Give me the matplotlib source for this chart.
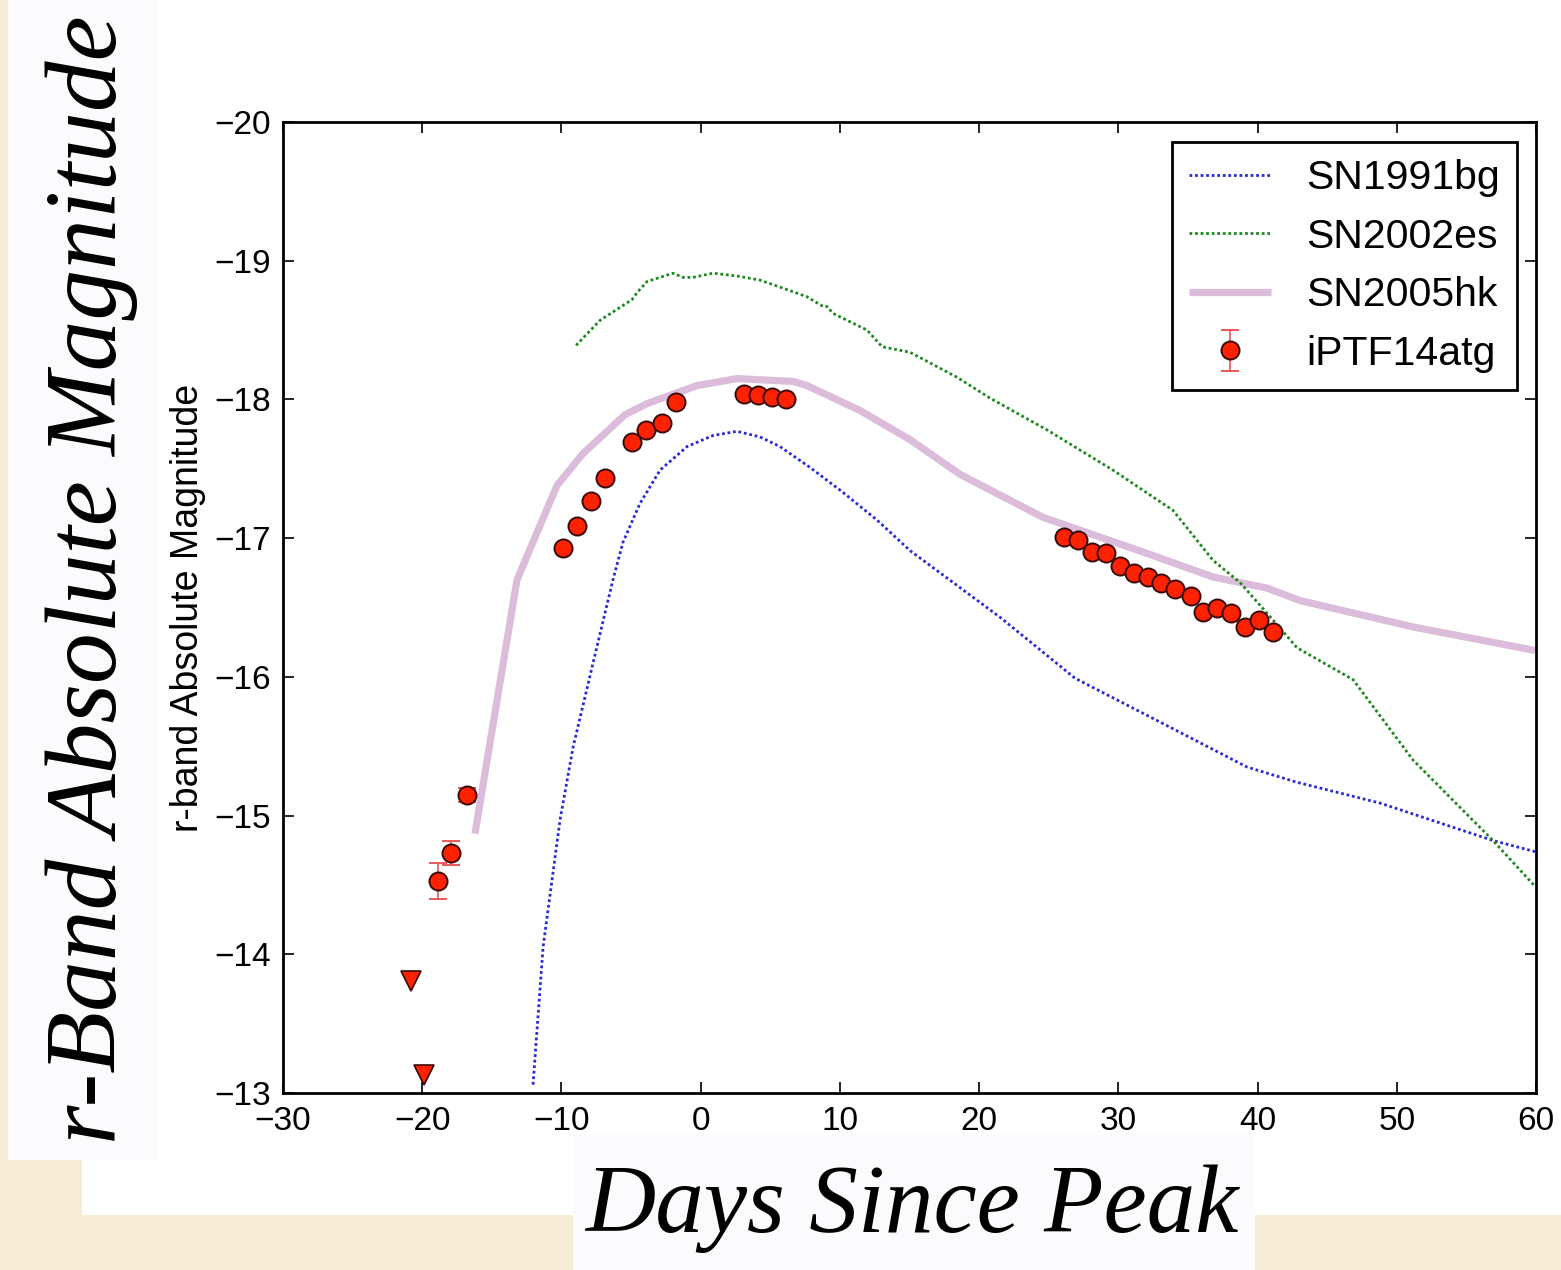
import matplotlib
matplotlib.use("Agg")
import matplotlib.pyplot as plt
from matplotlib.patches import Rectangle

# ---------------- data ----------------
bg91_days = [-12.04, -11.32, -10.10, -9.17, -7.73, -6.30, -5.58, -4.36, -2.92, -0.98,
             0.89, 2.61, 4.26, 5.70, 7.85, 10.22, 12.67, 15.04, 21.50, 26.89,
             34.43, 39.24, 42.83, 48.80, 56.91, 59.93]
bg91_mag = [-13.06, -14.05, -14.97, -15.49, -16.10, -16.70, -16.97, -17.25, -17.49, -17.66,
            -17.74, -17.77, -17.73, -17.66, -17.51, -17.33, -17.13, -16.91, -16.43, -15.99,
            -15.60, -15.35, -15.24, -15.09, -14.82, -14.74]

es02_days = [-8.95, -7.23, -4.93, -4.57, -3.85, -1.99, -1.27, -0.55, 0.89, 2.61,
             4.26, 5.70, 7.64, 8.79, 9.08, 9.51, 11.95, 13.03, 15.04, 18.41,
             20.78, 24.88, 29.62, 33.93, 36.80, 38.74, 41.11, 42.83, 46.86, 51.17,
             56.91, 59.93]
es02_mag = [-18.39, -18.57, -18.72, -18.77, -18.85, -18.91, -18.88, -18.88, -18.91, -18.89,
            -18.86, -18.81, -18.74, -18.67, -18.67, -18.62, -18.50, -18.38, -18.34, -18.16,
            -18.01, -17.78, -17.49, -17.20, -16.84, -16.68, -16.41, -16.21, -15.98, -15.40,
            -14.82, -14.49]

hk05_days = [-16.21, -13.19, -10.32, -8.45, -5.43, -3.85, -0.26, 2.61, 6.63, 7.64,
             11.45, 15.04, 18.63, 24.59, 32.06, 36.80, 40.68, 43.05, 51.17, 59.93]
hk05_mag = [-14.87, -16.70, -17.38, -17.61, -17.89, -17.97, -18.10, -18.15, -18.13, -18.10,
            -17.92, -17.71, -17.46, -17.15, -16.89, -16.72, -16.64, -16.55, -16.36, -16.19]

atg_days = [-18.9, -17.9, -16.8, -9.9, -8.9, -7.9, -6.9, -4.9, -3.9, -2.8, -1.8,
            3.1, 4.1, 5.1, 6.1,
            26.1, 27.1, 28.1, 29.1, 30.1, 31.1, 32.1, 33.1, 34.1, 35.2, 36.1, 37.1,
            38.1, 39.1, 40.1, 41.1]
atg_mag = [-14.53, -14.73, -15.15, -16.93, -17.09, -17.27, -17.43, -17.69, -17.78, -17.83, -17.98,
           -18.04, -18.03, -18.02, -18.00,
           -17.01, -16.99, -16.90, -16.89, -16.80, -16.75, -16.72, -16.68, -16.63, -16.58, -16.47, -16.50,
           -16.46, -16.36, -16.41, -16.32]
atg_err = [0.13, 0.087, 0.05, 0, 0, 0, 0, 0, 0, 0, 0,
           0, 0, 0, 0,
           0, 0, 0, 0, 0, 0, 0, 0, 0, 0, 0, 0,
           0, 0, 0, 0]

lim_days = [-20.8, -19.9]
lim_mag = [-13.81, -13.13]

x_ticks = [-30, -20, -10, 0, 10, 20, 30, 40, 50, 60]
y_ticks = [-20, -19, -18, -17, -16, -15, -14, -13]

# ---------------- figure ----------------
plt.rcParams['font.family'] = ['Liberation Sans', 'DejaVu Sans']

W, H = 1561, 1270
fig = plt.figure(figsize=(W / 100, H / 100), dpi=100)
fig.patch.set_facecolor('#f7edd4')

def frect(x0, y0, x1, y1, color, z):
    fig.patches.append(Rectangle((x0 / W, 1 - y1 / H), (x1 - x0) / W, (y1 - y0) / H,
                                 transform=fig.transFigure, facecolor=color,
                                 edgecolor='none', zorder=z))

frect(82, 0, 1561, 1215, '#ffffff', -3)
frect(8, 0, 157, 1160, '#fbfbfe', -2)
frect(573, 1135, 1255, 1270, '#fbfbfe', -2)

ax = fig.add_axes([283 / W, 1 - 1093 / H, (1536 - 283) / W, (1093 - 122) / H])
ax.set_facecolor('white')
ax.set_zorder(1)

ax.plot(hk05_days, hk05_mag, color='#dbbddb', lw=5.2, solid_capstyle='butt',
        label='SN2005hk', zorder=2)
ax.plot(bg91_days, bg91_mag, color='#2a2ad8', lw=2.0, ls=(0, (1, 1)),
        label='SN1991bg', zorder=3)
ax.plot(es02_days, es02_mag, color='#1e8a1e', lw=2.0, ls=(0, (1, 1)),
        label='SN2002es', zorder=3)

eb = ax.errorbar(atg_days, atg_mag, yerr=atg_err, fmt='o', ms=13, mfc='#ff2200',
                 mec='#3a0a0a', mew=1.4, ecolor='#e8585a', elinewidth=1.2,
                 capsize=6.5, capthick=1.2, label='iPTF14atg', zorder=5)
ax.plot(lim_days, lim_mag, 'v', ms=14, mfc='#ff2200', mec='#3a0a0a', mew=1.2, zorder=5)

ax.set_xlim(-30, 60)
ax.set_ylim(-13, -20)
ax.set_xticks(x_ticks)
ax.set_yticks(y_ticks)
ax.tick_params(direction='in', length=8, width=1.2, top=True, right=True,
               labelsize=24, pad=9)
for s in ax.spines.values():
    s.set_linewidth(2.0)

ax.set_ylabel('r-band Absolute Magnitude', fontsize=27, labelpad=6)

handles, labels = ax.get_legend_handles_labels()
order = ['SN1991bg', 'SN2002es', 'SN2005hk', 'iPTF14atg']
hl = {l: h for h, l in zip(handles, labels)}
leg = ax.legend([hl[o] for o in order], order, loc='upper right',
                bbox_to_anchor=((1517 - 283) / 1253, 1 - (142 - 122) / 971),
                borderaxespad=0, fancybox=False, framealpha=1, edgecolor='black',
                prop={'size': 29.5}, handlelength=2.0,
                handletextpad=0.85, labelspacing=0.5, borderpad=0.42)
leg.get_frame().set_linewidth(2.0)

# big overlay titles
fig.text(116 / W, 1 - 580 / H, 'r-Band Absolute Magnitude', rotation=90,
         rotation_mode='anchor', ha='center', va='baseline',
         fontfamily='Liberation Serif', style='italic', fontsize=73, zorder=10)
fig.text(912 / W, 1 - 1232 / H, 'Days Since Peak', ha='center', va='baseline',
         fontfamily='Liberation Serif', style='italic', fontsize=70, zorder=10)

fig.savefig('out.png', dpi=100, facecolor=fig.get_facecolor())
